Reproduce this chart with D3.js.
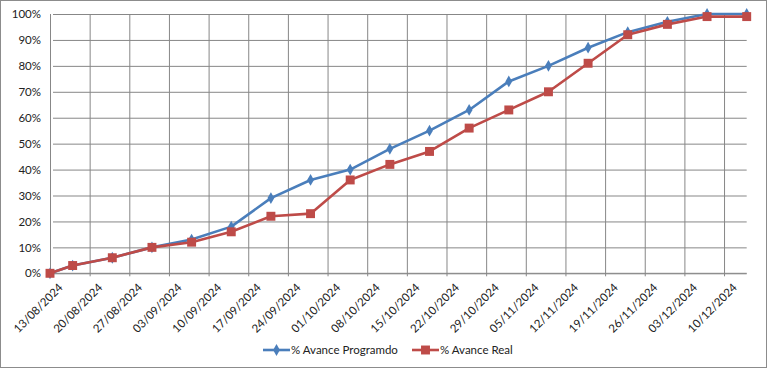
<!DOCTYPE html>
<html>
<head>
<meta charset="utf-8">
<script src="https://cdn.jsdelivr.net/npm/d3@7"></script>
<style>
  body { margin: 0; background: #fff; }
  svg { display: block; font-family: Lato, "Open Sans", sans-serif; }
</style>
</head>
<body>
<svg id="chart" width="768" height="373"></svg>
<script>
// dates of each measurement (dd/mm/yyyy)
const fechas = ["13/08/2024", "17/08/2024", "24/08/2024", "31/08/2024", "07/09/2024", "14/09/2024",
    "21/09/2024", "28/09/2024", "05/10/2024", "12/10/2024", "19/10/2024", "26/10/2024",
    "02/11/2024", "09/11/2024", "16/11/2024", "23/11/2024", "30/11/2024", "07/12/2024", "14/12/2024"];
const programado = [0, 3, 6, 10, 13, 18, 29, 36, 40, 48, 55, 63, 74, 80, 87, 93, 97, 100, 100];
const real = [0, 3, 6, 10, 12, 16, 22, 23, 36, 42, 47, 56, 63, 70, 81, 92, 96, 99, 99];
const tickLabels = ["13/08/2024", "20/08/2024", "27/08/2024", "03/09/2024", "10/09/2024", "17/09/2024",
    "24/09/2024", "01/10/2024", "08/10/2024", "15/10/2024", "22/10/2024", "29/10/2024",
    "05/11/2024", "12/11/2024", "19/11/2024", "26/11/2024", "03/12/2024", "10/12/2024"];
const yTicks = [0, 10, 20, 30, 40, 50, 60, 70, 80, 90, 100];
const seriesNames = ["% Avance Programdo", "% Avance Real"];

const parse = d3.utcParse("%d/%m/%Y");
const fmt = d3.utcFormat("%d/%m/%Y");

const svg = d3.select("#chart");
const margin = {left: 50, right: 21.3, top: 14, bottom: 100};
const width = 768, height = 373;

// outer frame
svg.append("rect")
    .attr("x", 0.5).attr("y", 0.5)
    .attr("width", 766).attr("height", 367)
    .attr("fill", "#fff")
    .attr("stroke", "#8c8c8c");

const x = d3.scaleUtc()
    .domain([parse("13/08/2024"), parse("14/12/2024")])
    .range([margin.left, width - margin.right]);

const y = d3.scaleLinear()
    .domain([0, 100])
    .range([273.3, margin.top]);

const gridColor = "#878787";

// horizontal gridlines + y ticks
svg.append("g")
    .attr("transform", `translate(${margin.left},0)`)
    .call(d3.axisLeft(y).tickValues(yTicks).tickSize(-(x.range()[1] - x.range()[0])).tickPadding(9)
        .tickFormat(d => d + "%"))
    .call(g => g.select(".domain").remove())
    .call(g => g.selectAll("line").attr("stroke", gridColor).attr("x1", 3))
    .call(g => g.selectAll("text").attr("font-size", 11.5).attr("fill", "#222")
        .attr("font-family", "Lato, sans-serif"));

// vertical gridlines + x ticks
const xTickDates = tickLabels.map(parse);
svg.append("g")
    .attr("transform", `translate(0,${y(0)})`)
    .call(d3.axisBottom(x).tickValues(xTickDates).tickSize(-(y(0) - y(100))).tickFormat(fmt).tickPadding(6))
    .call(g => g.select(".domain").remove())
    .call(g => g.selectAll("line").attr("stroke", gridColor).attr("y1", 3))
    .call(g => g.selectAll("text")
        .attr("font-size", 11.5).attr("fill", "#222")
        .attr("font-family", "Lato, sans-serif")
        .attr("text-anchor", "end")
        .attr("dy", "0.35em")
        .attr("transform", "translate(6,8) rotate(-45)"));

// baseline
svg.append("line")
    .attr("x1", margin.left).attr("x2", x.range()[1])
    .attr("y1", y(0)).attr("y2", y(0))
    .attr("stroke", gridColor);

const dates = fechas.map(parse);
const colors = ["#4a7ebb", "#be4b48"];
const allSeries = [programado, real];

const line = d3.line()
    .x((d, i) => x(dates[i]))
    .y(d => y(d));

const diamond = d3.symbol().type(d3.symbolDiamond).size(40);
const square = d3.symbol().type(d3.symbolSquare).size(80);

allSeries.forEach((vals, s) => {
    svg.append("path")
        .datum(vals)
        .attr("fill", "none")
        .attr("stroke", colors[s])
        .attr("stroke-width", 2.6)
        .attr("stroke-linejoin", "round")
        .attr("d", line);

    svg.append("g").selectAll("path")
        .data(vals)
        .join("path")
        .attr("transform", (d, i) => `translate(${x(dates[i])},${y(d)})`)
        .attr("d", s === 0 ? diamond : square)
        .attr("fill", colors[s]);
});

// legend
const legendItems = [
    {x: 263, label: seriesNames[0]},
    {x: 412, label: seriesNames[1]}
];
const ly = 350;
legendItems.forEach((it, s) => {
    const g = svg.append("g");
    g.append("line")
        .attr("x1", it.x).attr("x2", it.x + 27)
        .attr("y1", ly).attr("y2", ly)
        .attr("stroke", colors[s]).attr("stroke-width", 2.6);
    g.append("path")
        .attr("transform", `translate(${it.x + 13.5},${ly})`)
        .attr("d", s === 0 ? diamond : square)
        .attr("fill", colors[s]);
    g.append("text")
        .attr("x", it.x + 28)
        .attr("y", ly)
        .attr("dy", "0.35em")
        .attr("font-size", 11.5)
        .attr("fill", "#222")
        .text(it.label);
});
</script>
</body>
</html>
